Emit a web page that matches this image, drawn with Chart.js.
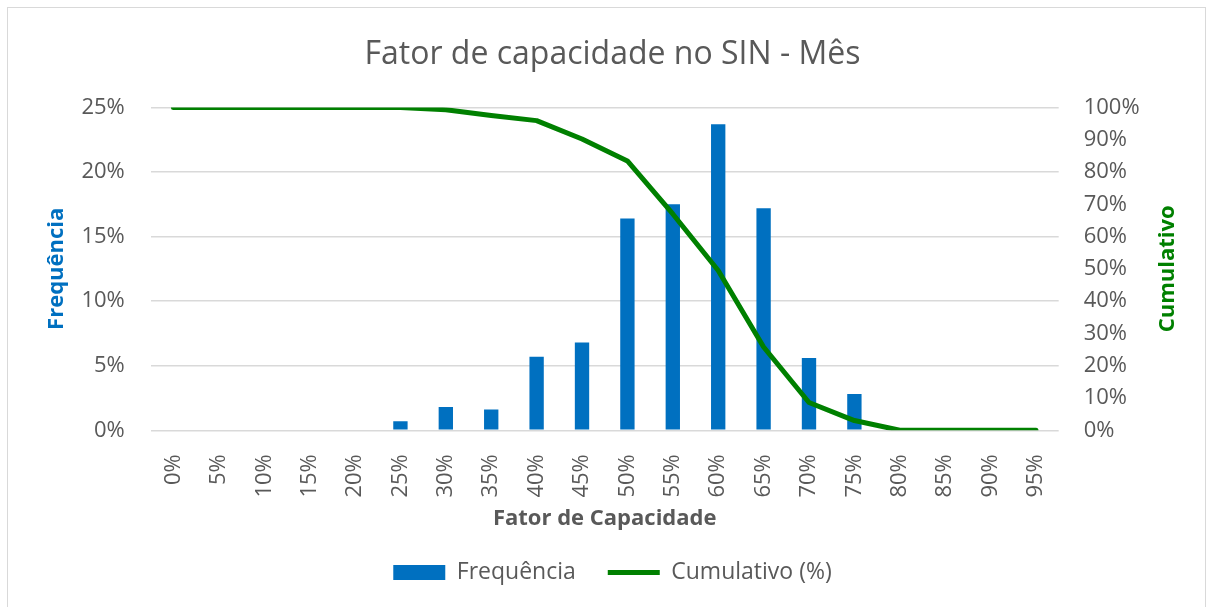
<!DOCTYPE html>
<html>
<head>
<meta charset="utf-8">
<script src="https://cdn.jsdelivr.net/npm/chart.js@4"></script>
<style>
  html, body { margin: 0; padding: 0; background: #fff; }
  canvas { display: block; }
</style>
</head>
<body>
<canvas id="mainChart" width="1213" height="607"></canvas>
<script>
// Fator de capacidade (categorias do eixo X)
const categories = ['0%', '5%', '10%', '15%', '20%', '25%', '30%', '35%', '40%', '45%',
    '50%', '55%', '60%', '65%', '70%', '75%', '80%', '85%', '90%', '95%'];

// Frequência (%) - eixo esquerdo
const frequencia = [0, 0, 0, 0, 0, 0.7, 1.8, 1.6, 5.7, 6.8,
    16.4, 17.5, 23.7, 17.2, 5.6, 2.8, 0, 0, 0, 0];

// Cumulativo (%) - eixo direito
const cumulativo = [100, 100, 100, 100, 100, 100, 99.3, 97.5, 95.9, 90.2,
    83.4, 67.0, 49.5, 25.8, 8.6, 3.0, 0, 0, 0, 0];

const textGray = '#595959';
const gridGray = '#D9D9D9';

// Borda da área do gráfico + título do eixo direito (lido de baixo para cima)
const extras = {
    id: 'extras',
    beforeDraw(chart) {
        const ctx = chart.ctx;
        ctx.save();
        ctx.fillStyle = '#fff';
        ctx.fillRect(0, 0, chart.width, chart.height);
        ctx.strokeStyle = gridGray;
        ctx.lineWidth = 1;
        ctx.strokeRect(7.5, 7.5, 1198, 620);
        ctx.restore();
    },
    afterDraw(chart) {
        const s = chart.scales.y1;
        const ctx = chart.ctx;
        ctx.save();
        ctx.translate(s.right - 13, (s.top + s.bottom) / 2);
        ctx.rotate(-Math.PI / 2);
        ctx.font = 'bold 22px "Open Sans"';
        ctx.fillStyle = '#008000';
        ctx.textAlign = 'center';
        ctx.textBaseline = 'middle';
        ctx.fillText('Cumulativo', 0, 0);
        ctx.restore();
    }
};

const ctx = document.getElementById('mainChart').getContext('2d');
new Chart(ctx, {
    type: 'bar',
    data: {
        labels: categories,
        datasets: [{
            type: 'bar',
            label: 'Frequência',
            data: frequencia,
            backgroundColor: '#0070C0',
            yAxisID: 'y',
            barPercentage: 0.316,
            categoryPercentage: 1,
            order: 2
        }, {
            type: 'line',
            label: 'Cumulativo (%)',
            data: cumulativo,
            borderColor: '#008000',
            backgroundColor: '#008000',
            borderWidth: 5,
            borderCapStyle: 'round',
            borderJoinStyle: 'round',
            pointRadius: 0,
            tension: 0,
            yAxisID: 'y1',
            order: 1
        }]
    },
    options: {
        responsive: false,
        animation: false,
        layout: {
            padding: { left: 44, right: 32, top: 20, bottom: 13 }
        },
        plugins: {
            title: {
                display: true,
                text: 'Fator de capacidade no SIN - Mês',
                color: textGray,
                font: { family: 'Open Sans', size: 32, weight: 'normal' },
                padding: { top: 16, bottom: 33 }
            },
            legend: {
                position: 'bottom',
                labels: {
                    color: textGray,
                    font: { family: 'Open Sans', size: 23 },
                    boxWidth: 52,
                    boxHeight: 15,
                    usePointStyle: true,
                    pointStyleWidth: 52,
                    padding: 32,
                    sort: (a, b) => a.datasetIndex - b.datasetIndex,
                    generateLabels(chart) {
                        const items = Chart.defaults.plugins.legend.labels.generateLabels(chart);
                        items.forEach(it => {
                            if (it.datasetIndex === 0) {
                                it.pointStyle = 'rect';
                                it.lineWidth = 0;
                            } else {
                                it.pointStyle = 'line';
                                it.lineWidth = 5;
                                it.strokeStyle = '#008000';
                            }
                        });
                        return items;
                    }
                }
            },
            tooltip: { enabled: false }
        },
        scales: {
            x: {
                grid: { display: false },
                border: { display: false },
                ticks: {
                    color: textGray,
                    font: { family: 'Open Sans', size: 22 },
                    minRotation: 90,
                    maxRotation: 90,
                    padding: 16
                },
                title: {
                    display: true,
                    text: 'Fator de Capacidade',
                    color: textGray,
                    font: { family: 'Open Sans', size: 22, weight: 'bold' },
                    padding: { top: -8, bottom: -3 }
                }
            },
            y: {
                position: 'left',
                min: 0,
                max: 25,
                grid: { color: gridGray, lineWidth: 1.5, drawTicks: false },
                border: { display: false },
                ticks: {
                    stepSize: 5,
                    color: textGray,
                    font: { family: 'Open Sans', size: 22 },
                    padding: 26,
                    callback: v => v + '%'
                },
                title: {
                    display: true,
                    text: 'Frequência',
                    color: '#0070C0',
                    font: { family: 'Open Sans', size: 22, weight: 'bold' },
                    padding: { top: 0, bottom: -15 }
                }
            },
            y1: {
                position: 'right',
                min: 0,
                max: 100,
                grid: { display: false, drawTicks: false },
                border: { display: false },
                ticks: {
                    stepSize: 10,
                    color: textGray,
                    font: { family: 'Open Sans', size: 22 },
                    padding: 25,
                    callback: v => v + '%'
                },
                title: {
                    display: true,
                    text: 'Cumulativo',
                    color: 'rgba(0,0,0,0)',
                    font: { family: 'Open Sans', size: 22, weight: 'bold' },
                    padding: { top: 0, bottom: -10 }
                }
            }
        }
    },
    plugins: [extras]
});
</script>
</body>
</html>
